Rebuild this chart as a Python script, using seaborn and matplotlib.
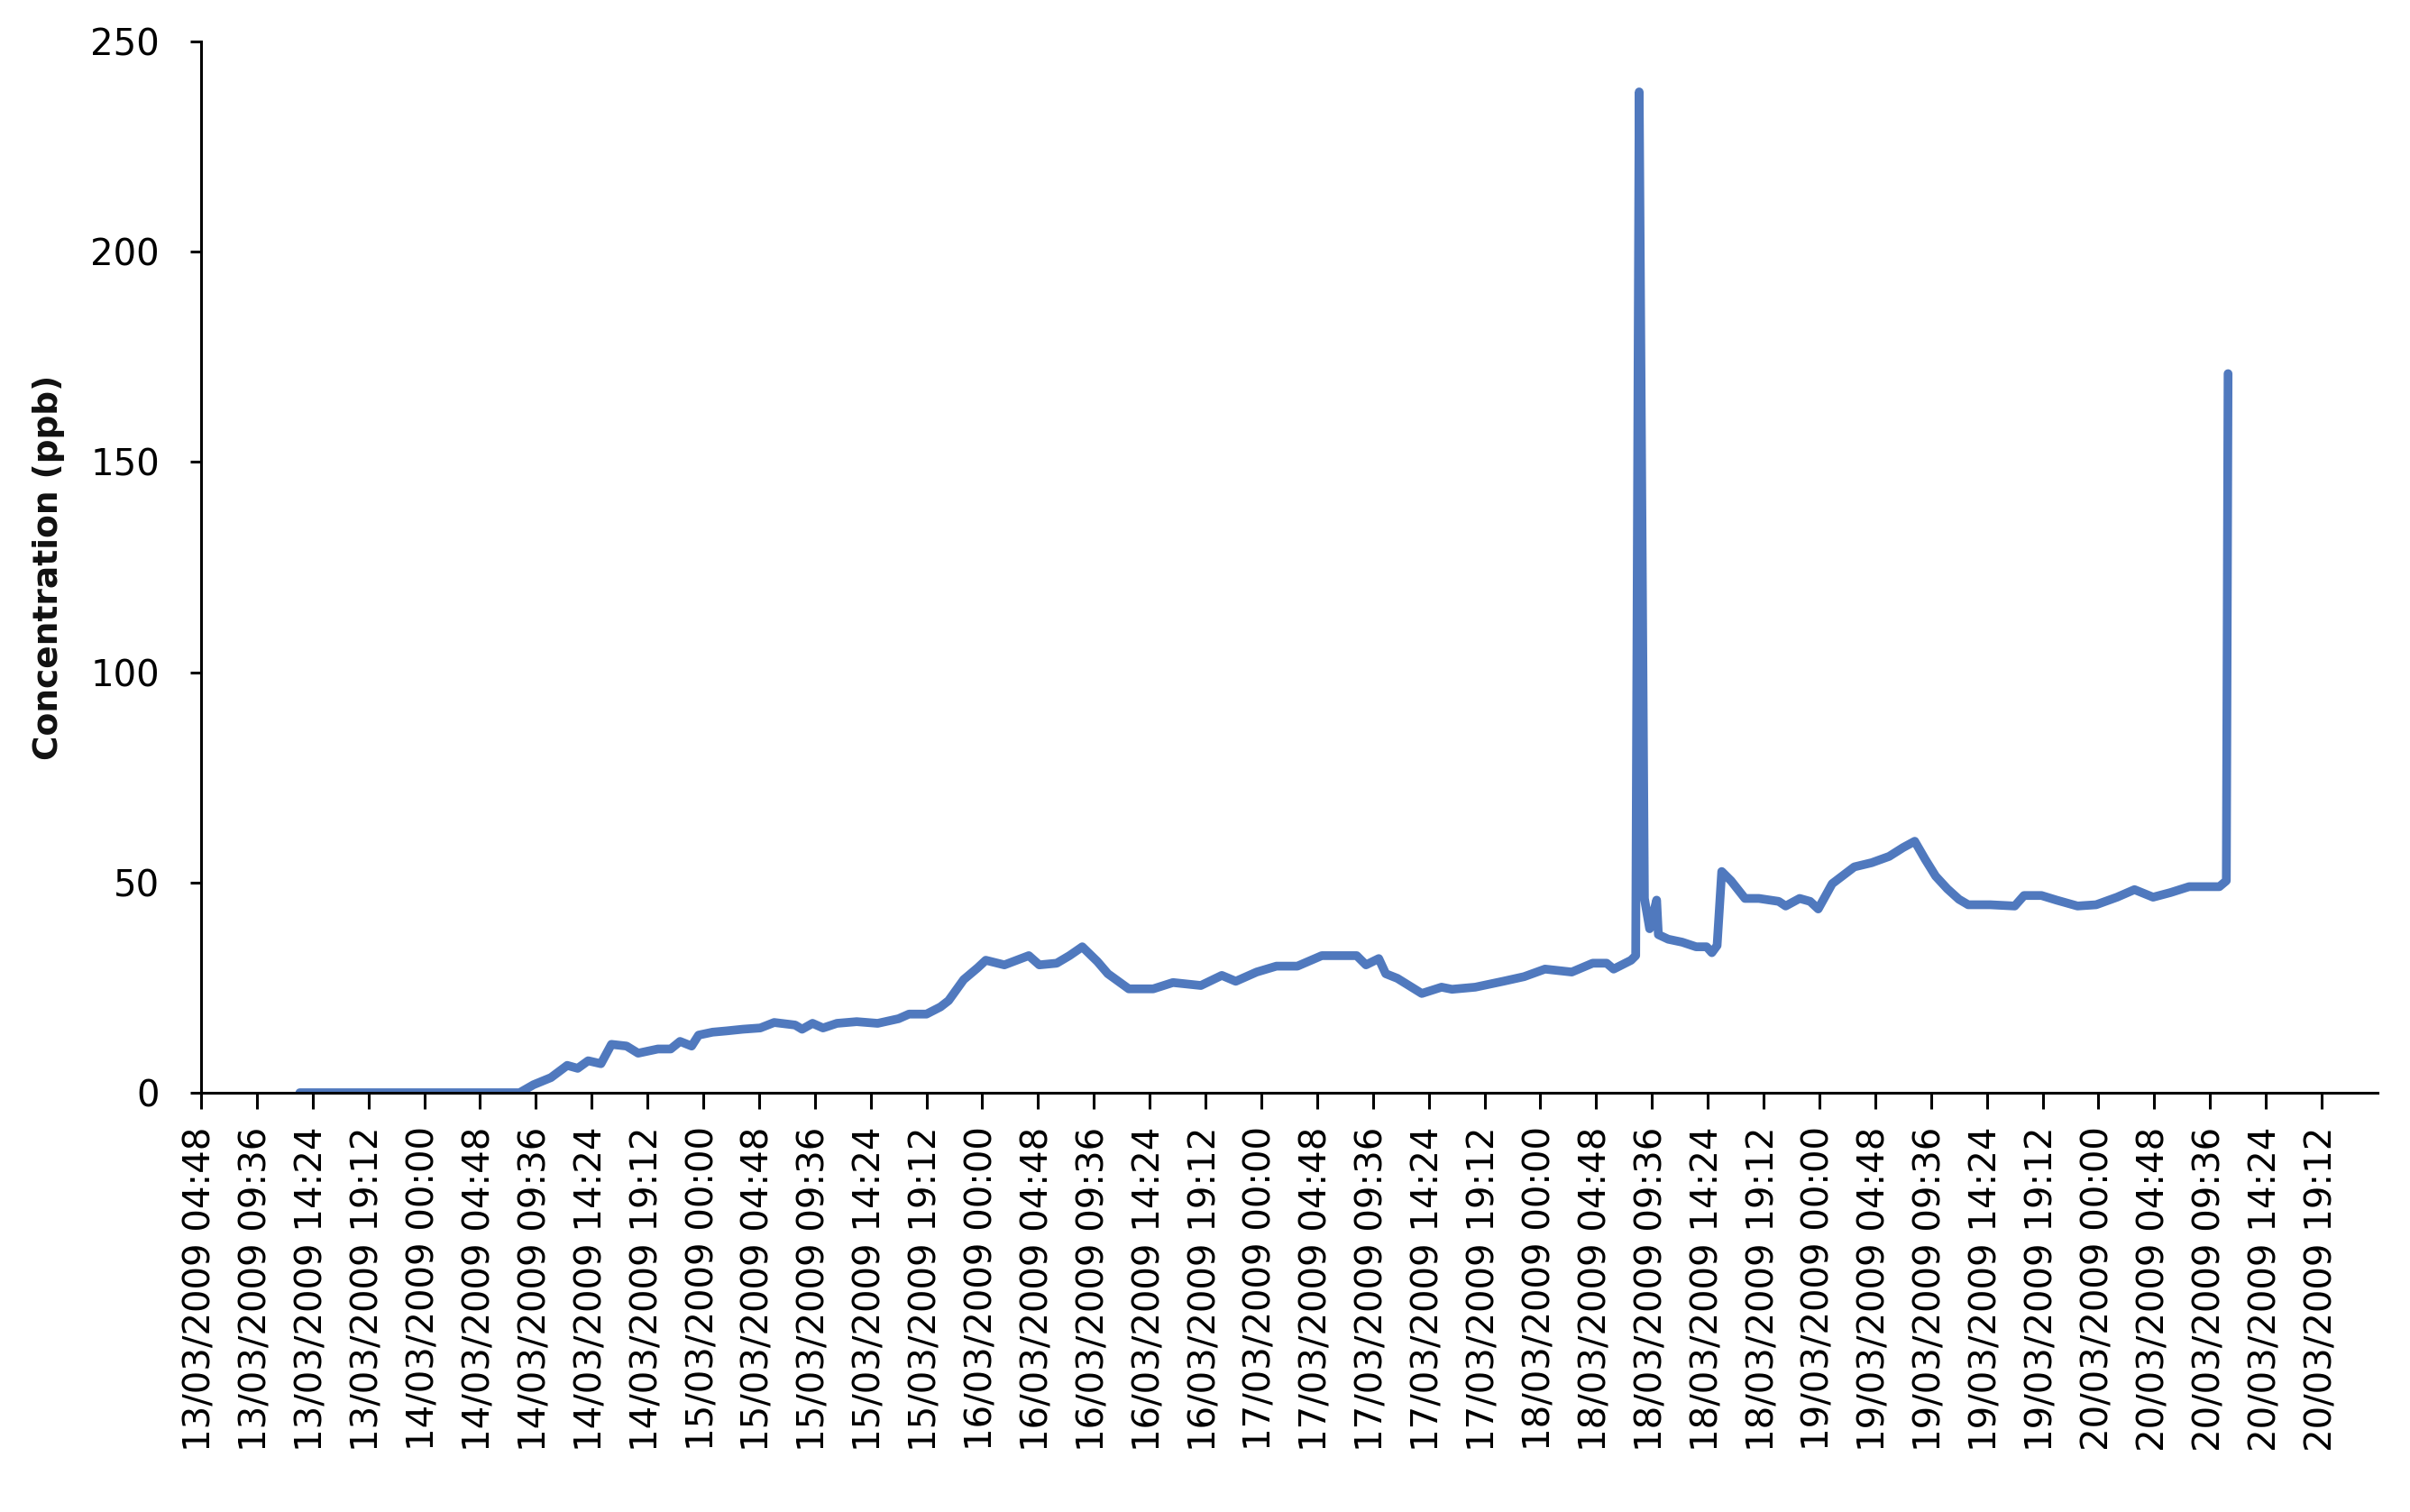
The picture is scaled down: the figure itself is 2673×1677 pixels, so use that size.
import numpy as np
import pandas as pd
import matplotlib
matplotlib.use("Agg")
import matplotlib.pyplot as plt
import seaborn as sns

# ---- data (hours after 13/03/2009 00:00, concentration in ppb) ----
hours = [13.3, 32.2, 33.4, 34.9, 36.3, 37.2, 38.1, 39.2, 40.1, 41.4, 42.4, 44.1,
         45.2, 46.0, 47.0, 47.6, 48.8, 50.0, 51.4, 52.9, 54.1, 55.9, 56.5, 57.4,
         58.3, 59.5, 61.2, 63.0, 64.8, 65.7, 67.2, 68.4, 69.1, 70.4, 71.6, 72.3,
         73.9, 76.0, 76.9, 78.4, 79.5, 80.6, 81.9, 82.8, 84.6, 86.7, 88.4, 90.8,
         92.6, 93.8, 95.6, 97.3, 99.1, 101.2, 103.0, 104.2, 105.0, 106.1, 106.7,
         107.7, 109.8, 111.5, 112.4, 114.4, 116.8, 118.6, 120.4, 122.7, 124.5,
         125.7, 126.3, 127.8, 128.2, 128.5, 128.95, 129.4, 130.0, 130.15, 131.0,
         132.2, 133.4, 134.3, 134.75, 135.2, 135.6, 136.4, 137.6, 138.8, 140.5,
         141.1, 142.3, 143.2, 143.9, 145.1, 147.0, 148.5, 150.0, 151.2, 152.2,
         153.1, 154.0, 155.0, 156.0, 156.8, 158.7, 160.8, 161.6, 163.1, 164.4,
         166.2, 167.8, 169.6, 171.1, 172.7, 174.2, 175.8, 178.4, 179.0, 179.15]
conc = [0.0, 0.0, 1.9, 3.6, 6.5, 5.8, 7.6, 6.9, 11.5, 11.1, 9.4, 10.4,
        10.4, 12.2, 11.1, 13.7, 14.4, 14.7, 15.1, 15.4, 16.7, 16.1, 15.1, 16.5,
        15.4, 16.5, 16.9, 16.5, 17.6, 18.7, 18.7, 20.4, 21.9, 26.9, 29.7, 31.5,
        30.4, 32.6, 30.4, 30.8, 32.6, 34.7, 31.2, 28.3, 24.7, 24.7, 26.2, 25.5,
        27.9, 26.5, 28.7, 30.1, 30.1, 32.6, 32.6, 32.6, 30.4, 31.9, 28.3,
        27.2, 23.6, 25.1, 24.6, 25.1, 26.5, 27.6, 29.4, 28.7, 30.8,
        30.8, 29.4, 31.5, 32.6, 238.0, 46.2, 39.0, 45.8, 37.6, 36.5,
        35.8, 34.7, 34.7, 33.3, 35.0, 52.6, 50.4, 46.2, 46.2, 45.5,
        44.4, 46.2, 45.5, 43.7, 49.7, 53.7, 54.7, 56.2, 58.3, 59.8,
        55.5, 51.5, 48.5, 46.0, 44.7, 44.7, 44.4, 46.9, 46.9, 45.8,
        44.4, 44.7, 46.5, 48.3, 46.5, 47.6, 49.0, 49.0, 50.4, 171.0]

start = pd.Timestamp("2009-03-13 00:00")
x_start = pd.Timestamp("2009-03-13 04:48")
x_end = pd.Timestamp("2009-03-21 00:00")
tick_times = pd.date_range(x_start, periods=39, freq="288min")
tick_labels = [t.strftime("%d/%m/%Y %H:%M") for t in tick_times]
y_ticks = [0, 50, 100, 150, 200, 250]

df = pd.DataFrame({"time": start + pd.to_timedelta(hours, unit="h"),
                   "conc": conc})

sns.set_theme(style="white")
plt.rcParams["font.family"] = ["DejaVu Sans"]

fig = plt.figure(figsize=(26.73, 16.77), dpi=100)
ax = fig.add_axes([0.0834, 0.2773, 0.9031, 0.6953])

sns.lineplot(data=df, x="time", y="conc", ax=ax, color="#5079BE",
             linewidth=7, sort=False)

ax.set_xlim(x_start, x_end)
ax.set_ylim(0, 250)
ax.set_xticks(tick_times)
ax.set_xticklabels(tick_labels, rotation=90, fontsize=29, color="#111111")
ax.set_yticks(y_ticks)
ax.set_yticklabels([str(v) for v in y_ticks], fontsize=29, color="#111111")

ax.set_xlabel("")
ax.set_ylabel("Concentration (ppb)", fontsize=27, fontweight="bold",
              color="#111111")
ax.yaxis.set_label_coords(-0.0627, 0.5)

for side in ["top", "right"]:
    ax.spines[side].set_visible(False)
for side in ["left", "bottom"]:
    ax.spines[side].set_color("black")
    ax.spines[side].set_linewidth(2.2)

ax.tick_params(axis="x", direction="out", length=13, width=2.2,
               pad=14, colors="black", bottom=True)
ax.tick_params(axis="y", direction="out", length=9, width=2.2,
               pad=24, colors="black", left=True)
ax.grid(False)

fig.savefig("out.png", dpi=100, facecolor="white")
